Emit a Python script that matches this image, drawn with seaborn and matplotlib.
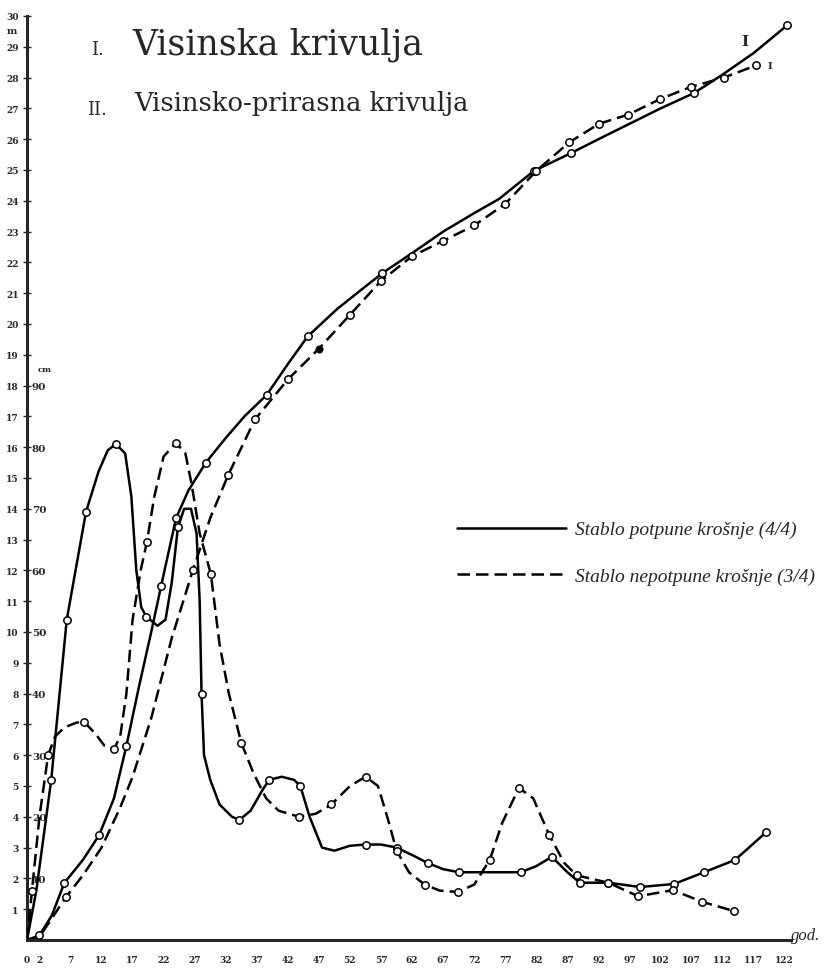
import matplotlib
matplotlib.use("Agg")
import matplotlib.pyplot as plt
from matplotlib.lines import Line2D
import seaborn as sns

# x axis (years) and y axes (m / cm)
age_ticks = [0, 2, 7, 12, 17, 22, 27, 32, 37, 42, 47, 52, 57, 62, 67, 72, 77, 82, 87,
             92, 97, 102, 107, 112, 117, 122]
m_ticks = list(range(1, 31))
cm_ticks = [10, 20, 30, 40, 50, 60, 70, 80, 90]

# I. height curve, full crown tree (m)
h_full_age = [0, 2, 4, 6, 9, 11.6, 14, 16, 18, 20, 21.6, 24.0, 26, 28.8, 32, 35, 38.6,
              42, 45.2, 50, 55, 57.2, 62, 67, 72, 76, 81.6, 87.6, 92, 97, 102, 107.4,
              112, 117, 122.4]
h_full_m = [0, 0.15, 0.8, 1.85, 2.6, 3.4, 4.6, 6.3, 8.2, 10.0, 11.5, 13.7, 14.6, 15.5,
            16.3, 17.0, 17.7, 18.7, 19.6, 20.5, 21.3, 21.65, 22.3, 23.0, 23.6, 24.06,
            24.97, 25.55, 26.0, 26.5, 27.0, 27.5, 28.1, 28.8, 29.7]
h_full_dot_age = [2, 6, 11.6, 16, 21.6, 24.0, 28.8, 38.6, 45.2, 57.2, 81.6, 87.6, 107.4, 122.4]
h_full_dot_m = [0.15, 1.85, 3.4, 6.3, 11.5, 13.7, 15.5, 17.7, 19.6, 21.65, 24.97, 25.55, 27.5, 29.7]

# I. height curve, incomplete crown tree (m)
h_part_age = [0, 2, 6.3, 9, 12, 15, 17, 20, 23.3, 26.7, 29.5, 32.4, 36.7, 42.0, 47.0,
              52, 57, 62, 67, 72, 77, 82.0, 87.3, 92.1, 96.8, 101.9, 106.9, 112.2, 117.4]
h_part_m = [0, 0.1, 1.4, 2.1, 3.0, 4.3, 5.3, 7.2, 9.8, 12.0, 13.7, 15.1, 16.9, 18.2, 19.2,
            20.3, 21.4, 22.2, 22.7, 23.2, 23.9, 24.97, 25.9, 26.5, 26.8, 27.3, 27.7, 28.0, 28.4]
h_part_dot_age = [6.3, 26.7, 32.4, 36.7, 42.0, 52, 57, 62, 67, 72, 77, 82.0, 87.3, 92.1,
                  96.8, 101.9, 106.9, 112.2, 117.4]
h_part_dot_m = [1.4, 12.0, 15.1, 16.9, 18.2, 20.3, 21.4, 22.2, 22.7, 23.2, 23.9, 24.97,
                25.9, 26.5, 26.8, 27.3, 27.7, 28.0, 28.4]
h_part_filled_age = [47.0]
h_part_filled_m = [19.2]

# II. increment curve, full crown tree (cm)
i_full_age = [0, 1.5, 3.9, 6.4, 9.5, 11.5, 13, 14.3, 15.8, 16.8, 17.6, 18.4, 19.2, 21,
              22.3, 23.3, 24.3, 25.3, 26.4, 27.3, 27.8, 28.1, 28.5, 29.5, 31, 33, 34.2,
              36, 38, 39, 41, 43, 44, 45.5, 47.5, 49.5, 52, 54.5, 57, 59.5, 62, 64.5, 67,
              69.5, 74.5, 79.5, 82, 84.5, 87, 89, 93.6, 98.7, 104.2, 109, 114, 119]
i_full_cm = [0, 8, 26, 52, 69.5, 76, 79.5, 80.5, 79, 72, 60, 54, 52.5, 51, 52, 58, 67,
             70, 70, 66, 55, 40, 30, 26, 22, 20, 19.5, 21, 24.5, 26, 26.5, 26, 25, 20, 15,
             14.5, 15.3, 15.5, 15.5, 15, 13.8, 12.5, 11.5, 11, 11, 11, 12, 13.5, 11, 9.3,
             9.3, 8.6, 9.1, 11, 13, 17.5]
i_full_dot_age = [3.9, 6.4, 9.5, 14.3, 19.2, 24.3, 28.1, 34.2, 39, 44, 54.5, 59.5, 64.5,
                  69.5, 79.5, 84.5, 89, 93.6, 98.7, 104.2, 109, 114, 119]
i_full_dot_cm = [26, 52, 69.5, 80.5, 52.5, 67, 40, 19.5, 26, 25, 15.5, 15, 12.5, 11, 11,
                 13.5, 9.3, 9.3, 8.6, 9.1, 11, 13, 17.5]

# II. increment curve, incomplete crown tree (cm)
i_part_age = [0, 0.8, 2.0, 3.4, 4.5, 6, 8, 9.2, 11, 12.5, 14, 15, 16, 17, 18.3, 19.3, 20.5,
              22, 24, 25.5, 26.5, 27.8, 29.6, 31, 32.5, 34.5, 36.5, 38.5, 40.5, 43.8, 46.5,
              49, 52, 54.5, 56.5, 58, 59.5, 61.5, 64, 66.5, 69.4, 72, 74.5, 76.5, 79.2,
              81.5, 84.1, 86.5, 88.5, 93.6, 98.4, 104, 108.7, 113.8]
i_part_cm = [0, 8, 20, 30, 33, 34.5, 35.3, 35.4, 33.5, 31.5, 31, 33, 40, 52, 60, 64.6, 72,
             78.5, 80.7, 79, 74, 66, 59.4, 48, 40, 32, 27, 23, 21, 20, 20.5, 22, 25, 26.5,
             25, 20, 14.5, 11, 9, 8, 7.8, 9, 13, 19, 24.7, 23, 17, 12.5, 10.5, 9.3, 7.1,
             8.1, 6.2, 4.7]
i_part_dot_age = [0.8, 3.4, 9.2, 14, 19.3, 24, 29.6, 34.5, 43.8, 49, 54.5, 59.5, 64, 69.4,
                  74.5, 79.2, 84.1, 88.5, 93.6, 98.4, 104, 108.7, 113.8]
i_part_dot_cm = [8, 30, 35.4, 31, 64.6, 80.7, 59.4, 32, 20, 22, 26.5, 14.5, 9, 7.8, 13,
                 24.7, 17, 10.5, 9.3, 7.1, 8.1, 6.2, 4.7]

sns.set_style("white")
plt.rcParams["font.family"] = ["DejaVu Serif", "DejaVu Sans"]

fig = plt.figure(figsize=(8.26, 9.70), dpi=100)
ax = fig.add_axes([27 / 826, 1 - 941 / 970, 764 / 826, 924 / 970])
ax2 = ax.twinx()

lw = 1.8
dash = (0, (5, 2.4))
circ = dict(marker="o", s=28, color="white", edgecolor="black", linewidth=1.1, zorder=5)

# height curves (m)
sns.lineplot(x=h_full_age, y=h_full_m, ax=ax, color="black", lw=lw, sort=False, estimator=None)
sns.lineplot(x=h_part_age, y=h_part_m, ax=ax, color="black", lw=lw, sort=False,
             estimator=None, linestyle=dash)
sns.scatterplot(x=h_full_dot_age, y=h_full_dot_m, ax=ax, **circ)
sns.scatterplot(x=h_part_dot_age, y=h_part_dot_m, ax=ax, **circ)
sns.scatterplot(x=h_part_filled_age, y=h_part_filled_m, ax=ax, marker="o", s=28,
                color="black", edgecolor="black", zorder=5)

# increment curves (cm)
sns.lineplot(x=i_full_age, y=i_full_cm, ax=ax2, color="black", lw=lw, sort=False, estimator=None)
sns.lineplot(x=i_part_age, y=i_part_cm, ax=ax2, color="black", lw=lw, sort=False,
             estimator=None, linestyle=dash)
sns.scatterplot(x=i_full_dot_age, y=i_full_dot_cm, ax=ax2, **circ)
sns.scatterplot(x=i_part_dot_age, y=i_part_dot_cm, ax=ax2, **circ)

ax.set_xlim(0, 123)
ax.set_ylim(0, 30)
ax2.set_ylim(0, 150)

for a in (ax, ax2):
    for s in ("top", "right"):
        a.spines[s].set_visible(False)
ax2.spines["left"].set_visible(False)
ax2.spines["bottom"].set_visible(False)
ax.spines["left"].set_linewidth(2.2)
ax.spines["bottom"].set_linewidth(2.2)

tick_font = dict(fontsize=6.5, fontweight="bold")
ax.set_xticks(age_ticks)
ax.set_xticklabels([str(a) for a in age_ticks], **tick_font)
ax.tick_params(axis="x", direction="inout", length=4, width=1, pad=9)
ax.set_yticks(m_ticks)
ax.set_yticklabels([str(v) for v in m_ticks], **tick_font)
ax.tick_params(axis="y", direction="inout", length=6, width=1, pad=3)

# cm scale sits on the same axis line, labels to its right
ax2.yaxis.set_ticks_position("left")
ax2.set_yticks(cm_ticks)
ax2.set_yticklabels([str(v) for v in cm_ticks], fontsize=7.5, fontweight="bold")
ax2.tick_params(axis="y", left=False, right=False, labelleft=True, labelright=False, pad=-7)
for lbl in ax2.get_yticklabels():
    lbl.set_horizontalalignment("left")

ax.set_xlabel("")
ax.set_ylabel("")
ax2.set_ylabel("")

# unit labels
fig.text(12 / 826, 1 - 32 / 970, "m", fontsize=7, fontweight="bold", ha="center", va="center")
fig.text(45 / 826, 1 - 370 / 970, "cm", fontsize=6, fontweight="bold", ha="center", va="center")
fig.text(806 / 826, 1 - 936 / 970, "god.", fontsize=12, style="italic",
         family="Liberation Serif", ha="center", va="center")

# curve labels near the height curves' ends
ax.text(115.5, 29.2, "I", fontsize=11, fontweight="bold", ha="center", va="center")
ax.text(119.6, 28.4, "I", fontsize=7, fontweight="bold", ha="center", va="center")

# titles
fig.text(97 / 826, 1 - 50 / 970, "I.", fontsize=13, ha="center", va="center")
fig.text(132 / 826, 1 - 45 / 970, "Visinska krivulja", fontsize=25, ha="left",
         va="center", family="DejaVu Serif", fontweight="light")
fig.text(97 / 826, 1 - 110 / 970, "II.", fontsize=13, ha="center", va="center")
fig.text(134 / 826, 1 - 103 / 970, "Visinsko-prirasna krivulja", fontsize=18.5, ha="left",
         va="center", family="DejaVu Serif", fontweight="light")

handles = [Line2D([], [], color="black", lw=lw),
           Line2D([], [], color="black", lw=lw, linestyle=dash)]
fig.legend(handles, ["Stablo potpune krošnje (4/4)", "Stablo nepotpune krošnje (3/4)"],
           loc="upper left", bbox_to_anchor=(447 / 826, 1 - 512 / 970), frameon=False,
           handlelength=5.6, handletextpad=0.5, labelspacing=1.5, borderpad=0,
           prop=dict(family="Liberation Serif", style="italic", size=14))

fig.savefig("out.png", dpi=100)
